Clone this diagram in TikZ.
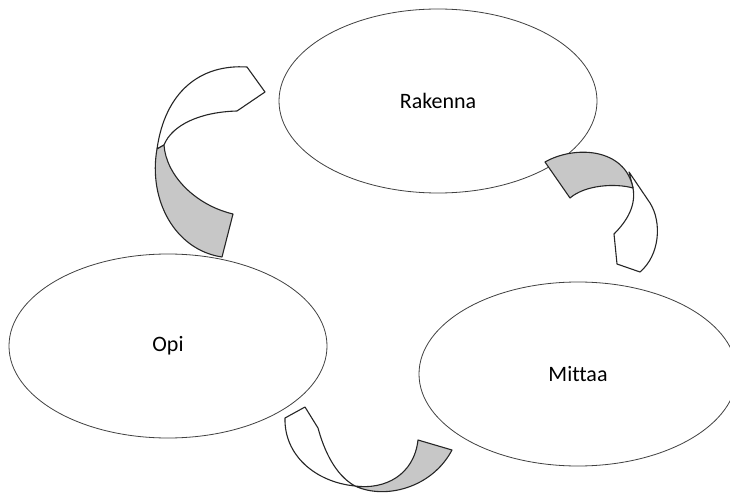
\documentclass[tikz,border=0pt]{standalone}
\usepackage{fontspec}
\setmainfont[Ligatures=CommonOff]{Carlito}
\usetikzlibrary{shapes.geometric}
\tikzset{
  cycle/.style={ellipse, draw=black!75, line width=0.8pt, fill=white,
    minimum width=318pt, minimum height=184pt, inner sep=0pt,
    font=\fontsize{22}{26}\selectfont},
  front/.style={draw=black!85, line width=1.1pt, fill=white, line join=round},
  back/.style={draw=black!85, line width=1.1pt, fill=black!22, line join=round}
}
\begin{document}
\begin{tikzpicture}[x=1pt,y=-1pt]
\useasboundingbox (0,0) rectangle (730,494);
\node[cycle] (rak) at (438,101) {Rakenna};
\node[cycle] (opi) at (168,346) {Opi};
\node[cycle] (mit) at (578,374) {Mittaa};
% left twisted arrow (Opi -> Rakenna)
\draw[front] (157,149) .. controls (165,92) and (200,64) .. (247,67)
  -- (265,92) -- (237,111) .. controls (200,112) and (172,125) .. (164,145) -- cycle;
\draw[back] (164,145) .. controls (166,175) and (195,205) .. (233,214)
  -- (222,257) .. controls (175,250) and (148,200) .. (157,149) -- cycle;
% right twisted arrow (Rakenna -> Mittaa)
\draw[front] (629,172) -- (650,203) .. controls (662,222) and (660,255) .. (640,272)
  -- (617,264) -- (614,234) .. controls (628,220) and (636,205) .. (633,188) -- cycle;
\draw[back] (545,162) .. controls (575,145) and (625,148) .. (633,188)
  .. controls (615,183) and (585,185) .. (570,198) -- cycle;
% bottom twisted arrow (Mittaa -> Opi)
\draw[front] (285,418) -- (305,407) -- (318,428) .. controls (324,450) and (335,475) .. (355,486)
  .. controls (315,482) and (284,455) .. (285,418) -- cycle;
\draw[back] (355,486) .. controls (385,500) and (432,488) .. (452,450)
  -- (418,440) .. controls (414,475) and (385,490) .. (355,486) -- cycle;
\end{tikzpicture}
\end{document}
